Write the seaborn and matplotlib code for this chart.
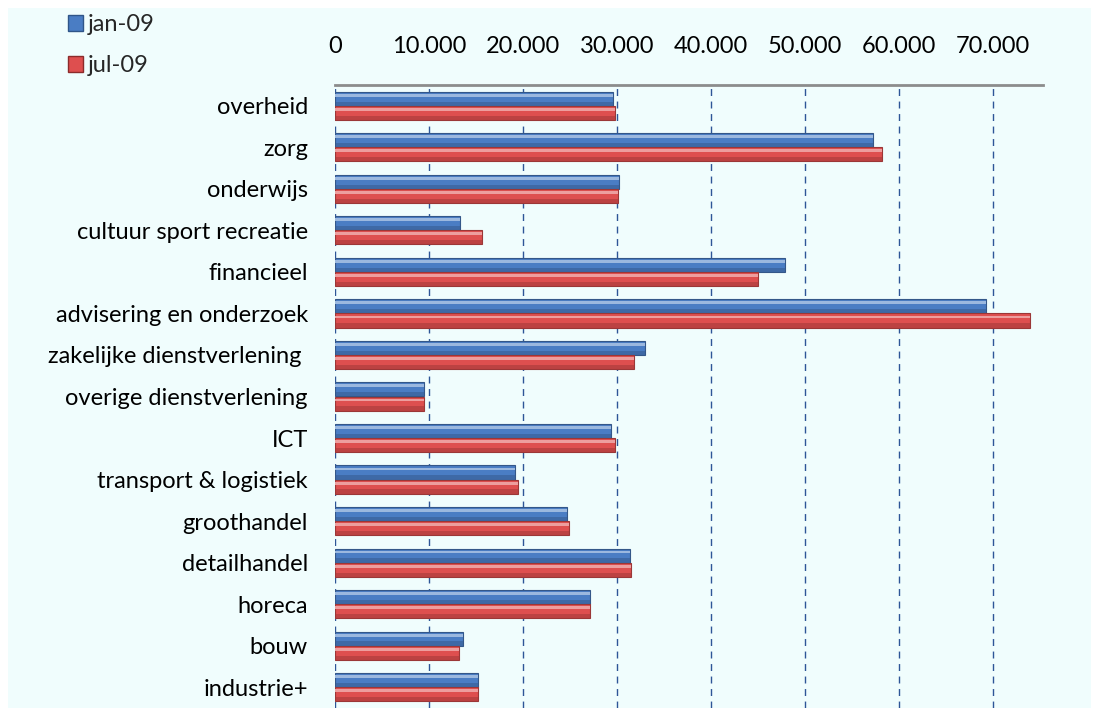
import matplotlib
matplotlib.use("Agg")
import matplotlib.pyplot as plt
import matplotlib.patches as mpatches
import seaborn as sns
import pandas as pd
import numpy as np

categories = ["overheid", "zorg", "onderwijs", "cultuur sport recreatie", "financieel",
              "advisering en onderzoek", "zakelijke dienstverlening ", "overige dienstverlening",
              "ICT", "transport & logistiek", "groothandel", "detailhandel", "horeca",
              "bouw", "industrie+"]
jan_09 = [29530, 57210, 30240, 13260, 47830, 69240, 32970, 9470, 29390, 19170,
          24650, 31380, 27170, 13580, 15240]
jul_09 = [29790, 58200, 30070, 15630, 45000, 73950, 31800, 9440, 29820, 19420,
          24900, 31480, 27100, 13230, 15240]
series_labels = ["jan-09", "jul-09"]
tick_values = [0, 10000, 20000, 30000, 40000, 50000, 60000, 70000]
tick_labels = ["0", "10.000", "20.000", "30.000", "40.000", "50.000", "60.000", "70.000"]

df = pd.DataFrame({
    "sector": categories * 2,
    "value": jan_09 + jul_09,
    "period": [series_labels[0]] * len(categories) + [series_labels[1]] * len(categories),
})

BG = "#F0FDFD"
BLUE = "#4A7DC4"
RED = "#DE4F4F"
FS = 17

sns.set_style("white")
plt.rcParams["font.family"] = ["Lato", "DejaVu Sans"]

W, H = 1099, 708
fig = plt.figure(figsize=(W / 100, H / 100), dpi=100)
fig.patch.set_facecolor("white")
fig.patches.append(mpatches.Rectangle((8 / W, 0), (1091 - 8) / W, (H - 8) / H,
                                      transform=fig.transFigure, facecolor=BG,
                                      edgecolor="none", zorder=-10))

ax = fig.add_axes([335 / W, 0.0, (1043 - 335) / W, (H - 85) / H])
ax.set_facecolor(BG)

sns.barplot(data=df, y="sector", x="value", hue="period", orient="h",
            palette=[BLUE, RED], width=0.68, ax=ax, legend=False,
            edgecolor="none", saturation=1)

# 3D-like shading derived from the drawn bars
for p, c in zip(ax.patches, [BLUE] * len(categories) + [RED] * len(categories)):
    x0, y0 = p.get_x(), p.get_y()
    w, h = p.get_width(), p.get_height()
    dark = tuple(max(0, v * 0.7) for v in matplotlib.colors.to_rgb(c))
    light = tuple(min(1, v + (1 - v) * 0.45) for v in matplotlib.colors.to_rgb(c))
    p.set_edgecolor(dark)
    p.set_linewidth(0.8)
    ax.add_patch(mpatches.Rectangle((x0, y0 + h * 0.15), w, h * 0.2, facecolor=light,
                                    edgecolor="none", zorder=p.get_zorder() + 0.1))
    ax.add_patch(mpatches.Rectangle((x0, y0 + h * 0.7), w, h * 0.3, facecolor=dark,
                                    edgecolor="none", alpha=0.5, zorder=p.get_zorder() + 0.1))

ax.set_xlim(0, 75300)
ax.set_xticks(tick_values)
ax.set_xticklabels(tick_labels)
ax.xaxis.tick_top()
ax.tick_params(axis="x", top=False, labelsize=FS, pad=17, labelcolor="black")
ax.tick_params(axis="y", left=False, labelsize=FS, pad=16, labelcolor="black")
ax.set_xlabel("")
ax.set_ylabel("")

ax.set_axisbelow(True)
ax.grid(axis="x", color="#2E5597", linestyle=(0, (5, 4)), linewidth=1.0)
ax.grid(axis="y", visible=False)
for s in ["right", "bottom", "left"]:
    ax.spines[s].set_visible(False)
ax.spines["top"].set_color("#8C8C8C")
ax.spines["top"].set_linewidth(2)

handles = [mpatches.Patch(facecolor=BLUE, edgecolor="#2F5588"),
           mpatches.Patch(facecolor=RED, edgecolor="#8B2B2B")]
fig.legend(handles, series_labels, loc="upper left", bbox_to_anchor=(68 / W, 1 - 14 / H),
           frameon=False, fontsize=FS, handlelength=0.65, handleheight=0.65,
           handletextpad=0.2, labelspacing=0.85, borderaxespad=0, borderpad=0)

fig.savefig("out.png", dpi=100, facecolor=fig.get_facecolor())
